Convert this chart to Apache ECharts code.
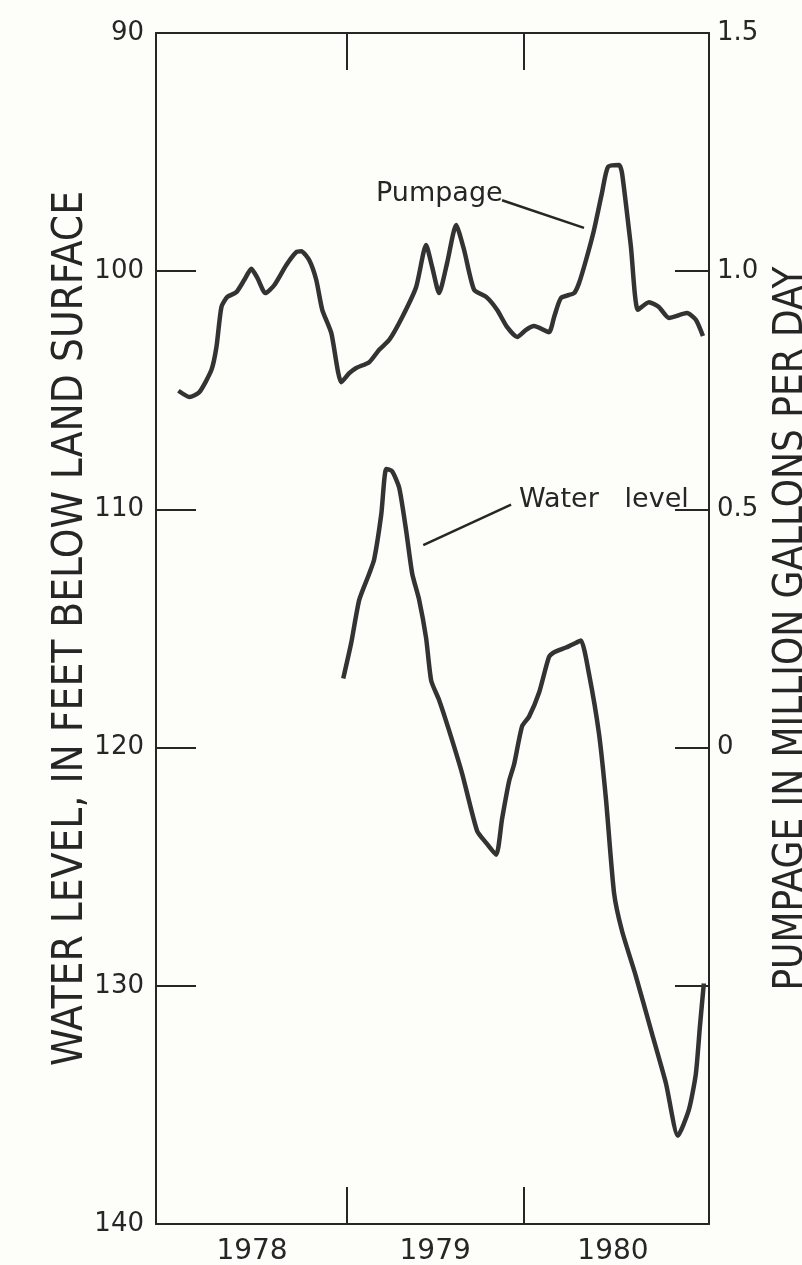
<!DOCTYPE html>
<html>
<head>
<meta charset="utf-8">
<script src="https://cdn.jsdelivr.net/npm/echarts@6/dist/echarts.min.js"></script>
<style>
html, body { margin: 0; padding: 0; background: #fdfdfa; }
#chart { width: 802px; height: 1265px; }
</style>
</head>
<body>
<div id="chart"></div>
<script>
// pumpage, million gallons per day (right axis), x in decimal years
var pumpX = [1978.056, 1978.118, 1978.174, 1978.242, 1978.270, 1978.298, 1978.331, 1978.382, 1978.427, 1978.466,
    1978.500, 1978.545, 1978.596, 1978.663, 1978.719, 1978.747, 1978.792, 1978.831, 1978.865, 1978.916,
    1978.972, 1979.017, 1979.056, 1979.129, 1979.185, 1979.242, 1979.315, 1979.393, 1979.449, 1979.483,
    1979.522, 1979.567, 1979.618, 1979.663, 1979.719, 1979.787, 1979.848, 1979.904, 1979.961, 1980.011,
    1980.056, 1980.140, 1980.169, 1980.208, 1980.281, 1980.309, 1980.348, 1980.393, 1980.438, 1980.472,
    1980.534, 1980.551, 1980.601, 1980.640, 1980.702, 1980.758, 1980.815, 1980.916, 1980.966, 1981.006];
var pumpY = [0.749, 0.736, 0.746, 0.793, 0.841, 0.925, 0.946, 0.956, 0.982, 1.005,
    0.986, 0.954, 0.971, 1.013, 1.040, 1.042, 1.023, 0.982, 0.919, 0.870,
    0.767, 0.786, 0.797, 0.809, 0.835, 0.856, 0.904, 0.967, 1.055, 1.009,
    0.954, 1.017, 1.097, 1.044, 0.961, 0.946, 0.919, 0.883, 0.862, 0.877,
    0.885, 0.872, 0.904, 0.944, 0.954, 0.975, 1.023, 1.086, 1.164, 1.219,
    1.223, 1.206, 1.051, 0.919, 0.935, 0.925, 0.902, 0.912, 0.898, 0.864];

// water level, feet below land surface (left axis)
var levelX = [1978.983, 1979.028, 1979.073, 1979.129, 1979.157, 1979.197, 1979.225, 1979.258, 1979.298, 1979.337,
    1979.371, 1979.410, 1979.449, 1979.478, 1979.522, 1979.579, 1979.652, 1979.736, 1979.787, 1979.843,
    1979.876, 1979.916, 1979.944, 1979.989, 1980.028, 1980.084, 1980.140, 1980.169, 1980.236, 1980.292,
    1980.320, 1980.365, 1980.421, 1980.461, 1980.506, 1980.551, 1980.629, 1980.719, 1980.798, 1980.865,
    1980.927, 1980.966, 1980.989, 1981.011];
var levelY = [117.1, 115.6, 113.8, 112.7, 112.1, 110.2, 108.3, 108.4, 109.1, 110.9,
    112.7, 113.8, 115.4, 117.2, 118.0, 119.3, 121.1, 123.5, 124.0, 124.5,
    123.0, 121.4, 120.7, 119.1, 118.7, 117.7, 116.2, 116.0, 115.8, 115.6,
    115.5, 116.9, 119.4, 122.2, 126.1, 127.7, 129.6, 132.0, 134.1, 136.3,
    135.2, 133.7, 131.7, 129.9];

var yearTicks = [1979, 1980];
var yearLabels = [1978.47, 1979.5, 1980.5];

function zip(xs, ys) {
    return xs.map(function (x, i) { return [x, ys[i]]; });
}

var ink = '#262626';
var numFont = 'DejaVu Sans';
var titleFont = 'DejaVu Sans Condensed';

var myChart = echarts.init(document.getElementById('chart'));

var option = {
    backgroundColor: '#fdfdfa',
    animation: false,
    grid: { left: 156, right: 93, top: 33, bottom: 41, outerBoundsMode: 'none', containLabel: false },
    xAxis: [
        {
            type: 'value',
            position: 'bottom',
            min: 1977.93,
            max: 1981.04,
            splitLine: { show: false },
            axisLine: { onZero: false, lineStyle: { color: ink, width: 2 } },
            axisTick: { show: true, inside: true, length: 37, customValues: yearTicks, lineStyle: { color: ink, width: 2 } },
            axisLabel: {
                customValues: yearLabels,
                formatter: function (v) { return String(Math.floor(v)); },
                color: ink, fontFamily: numFont, fontSize: 28, margin: 14
            }
        },
        {
            type: 'value',
            position: 'top',
            min: 1977.93,
            max: 1981.04,
            splitLine: { show: false },
            axisLine: { onZero: false, lineStyle: { color: ink, width: 2 } },
            axisTick: { show: true, inside: true, length: 37, customValues: yearTicks, lineStyle: { color: ink, width: 2 } },
            axisLabel: { show: false }
        }
    ],
    yAxis: [
        {
            type: 'value',
            position: 'left',
            inverse: true,
            min: 90,
            max: 140,
            interval: 10,
            name: 'WATER LEVEL, IN FEET BELOW LAND SURFACE',
            nameLocation: 'middle',
            nameRotate: 90,
            nameGap: 64,
            nameMoveOverlap: false,
            nameTextStyle: { color: ink, fontFamily: titleFont, fontSize: 42 },
            splitLine: { show: false },
            axisLine: { show: true, onZero: false, lineStyle: { color: ink, width: 2 } },
            axisTick: { show: true, inside: true, length: 40, lineStyle: { color: ink, width: 2 } },
            axisLabel: { color: ink, fontFamily: numFont, fontSize: 26, margin: 12 }
        },
        {
            type: 'value',
            position: 'right',
            min: -1,
            max: 1.5,
            interval: 0.5,
            name: 'PUMPAGE IN MILLION GALLONS PER DAY',
            nameLocation: 'middle',
            nameRotate: 90,
            nameGap: 63,
            nameMoveOverlap: false,
            nameTextStyle: { color: ink, fontFamily: titleFont, fontSize: 40 },
            splitLine: { show: false },
            axisLine: { show: true, onZero: false, lineStyle: { color: ink, width: 2 } },
            axisTick: { show: true, inside: true, length: 34, lineStyle: { color: ink, width: 2 } },
            axisLabel: {
                color: ink, fontFamily: numFont, fontSize: 26, margin: 8,
                formatter: function (v) {
                    if (v < 0) return '';
                    if (v === 0) return '0';
                    return v.toFixed(1);
                }
            }
        }
    ],
    graphic: [
        { type: 'text', left: 376, top: 180, style: { text: 'Pumpage', fill: ink, font: '27px "DejaVu Sans"' } },
        { type: 'text', left: 519, top: 486, style: { text: 'Water   level', fill: ink, font: '27px "DejaVu Sans"' } }
    ],
    series: [
        {
            name: 'Pumpage',
            type: 'line',
            xAxisIndex: 0,
            yAxisIndex: 1,
            data: zip(pumpX, pumpY),
            showSymbol: false,
            smooth: 0.2,
            lineStyle: { color: '#333', width: 4.5 },
            markLine: {
                silent: true,
                symbol: ['none', 'none'],
                label: { show: false },
                lineStyle: { color: ink, width: 2.5, type: 'solid' },
                data: [[{ coord: [1979.876, 1.149] }, { coord: [1980.337, 1.091] }]]
            }
        },
        {
            name: 'Water level',
            type: 'line',
            xAxisIndex: 0,
            yAxisIndex: 0,
            data: zip(levelX, levelY),
            showSymbol: false,
            smooth: 0.2,
            lineStyle: { color: '#333', width: 4.5 },
            markLine: {
                silent: true,
                symbol: ['none', 'none'],
                label: { show: false },
                lineStyle: { color: ink, width: 2.5, type: 'solid' },
                data: [[{ coord: [1979.927, 109.8] }, { coord: [1979.433, 111.5] }]]
            }
        }
    ]
};

myChart.setOption(option);
</script>
</body>
</html>
